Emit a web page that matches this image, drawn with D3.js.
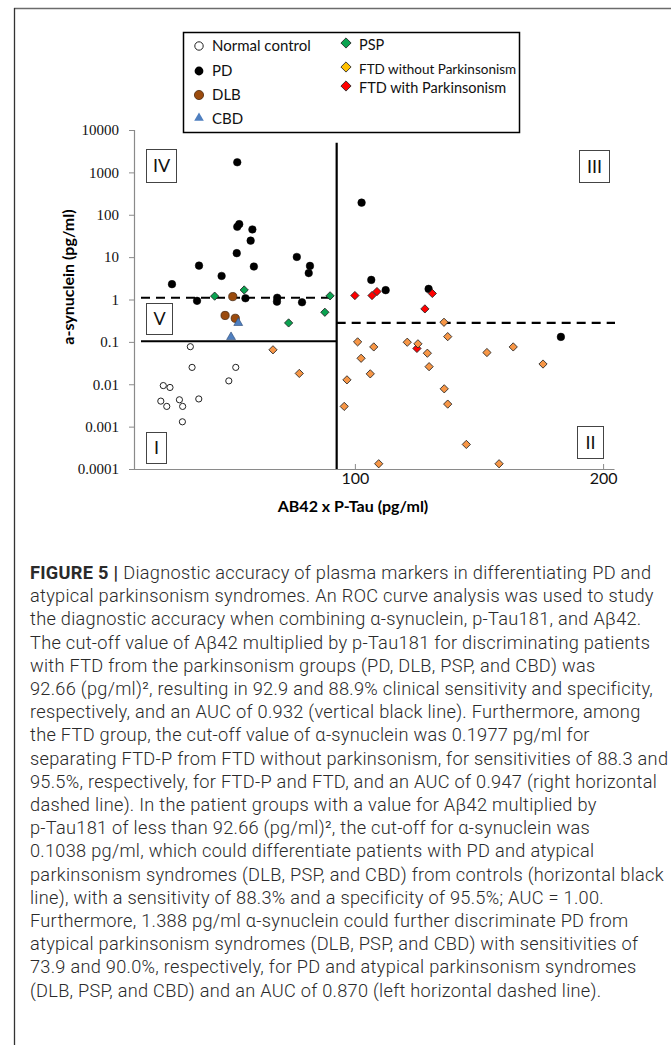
<!DOCTYPE html>
<html>
<head>
<meta charset="utf-8">
<script src="https://cdn.jsdelivr.net/npm/d3@7"></script>
<style>
body { margin: 0; background: #fff; }
svg { display: block; }
</style>
</head>
<body>
<div id="chart"></div>
<script>
// values: [AB42 x P-Tau, a-synuclein]
var normalControl = [[33.7,0.077],[34.4,0.025],[52.0,0.025],[49.2,0.012],[22.8,0.0093],[25.5,0.0084],
  [21.8,0.004],[24.2,0.003],[29.3,0.0043],[30.6,0.003],[37.1,0.0045],[30.5,0.0013]];
var pd = [[52.6,1730],[52.6,52],[53.4,60],[58.7,45],[58.0,24.5],[52.4,12.4],[59.3,6.0],[37.2,6.3],
  [46.3,3.6],[26.3,2.3],[76.6,10.1],[81.9,6.2],[81.4,4.2],[36.4,0.93],[55.9,1.07],[68.7,1.1],
  [68.6,0.89],[78.7,0.86],[102.7,193],[106.6,2.9],[112.4,1.66],[129.7,1.78],[183.0,0.131]];
var dlb = [[50.8,1.17],[47.7,0.42],[51.8,0.36]];
var cbd = [[53.0,0.28],[50.1,0.13]];
var psp = [[43.5,1.2],[55.4,1.68],[90.0,1.22],[87.9,0.5],[73.3,0.28]];
var ftdP = [[100.0,1.24],[106.9,1.24],[108.9,1.54],[131.2,1.39],[128.2,0.6],[125.0,0.07]];
var ftd = [[67.0,0.065],[77.6,0.018],[135.9,0.29],[137.4,0.133],[101.1,0.1],[107.6,0.076],
  [121.1,0.098],[125.4,0.09],[129.2,0.054],[102.5,0.041],[129.9,0.026],[106.2,0.0176],
  [96.8,0.0127],[153.2,0.056],[163.8,0.076],[175.8,0.03],[136.0,0.0078],[137.4,0.0034],
  [95.7,0.003],[144.9,0.00038],[109.6,0.000133],[158.1,0.000133]];

// cut-off lines as drawn
var cutX = 92.66;
var cutLeftDash = 1.1;
var cutLeftSolid = 0.1038;
var cutRightDash = 0.28;

var yTicks = [10000, 1000, 100, 10, 1, 0.1, 0.01, 0.001, 0.0001];
var xTicks = [100, 200];

var legendLeft = ["Normal control", "PD", "DLB", "CBD"];
var legendRight = ["PSP", "FTD without Parkinsonism", "FTD with Parkinsonism"];

var captionLines = [
  "Diagnostic accuracy of plasma markers in differentiating PD and",
  "atypical parkinsonism syndromes. An ROC curve analysis was used to study",
  "the diagnostic accuracy when combining \u03b1-synuclein, p-Tau181, and A\u03b242.",
  "The cut-off value of A\u03b242 multiplied by p-Tau181 for discriminating patients",
  "with FTD from the parkinsonism groups (PD, DLB, PSP, and CBD) was",
  "92.66 (pg/ml)\u00b2, resulting in 92.9 and 88.9% clinical sensitivity and specificity,",
  "respectively, and an AUC of 0.932 (vertical black line). Furthermore, among",
  "the FTD group, the cut-off value of \u03b1-synuclein was 0.1977 pg/ml for",
  "separating FTD-P from FTD without parkinsonism, for sensitivities of 88.3 and",
  "95.5%, respectively, for FTD-P and FTD, and an AUC of 0.947 (right horizontal",
  "dashed line). In the patient groups with a value for A\u03b242 multiplied by",
  "p-Tau181 of less than 92.66 (pg/ml)\u00b2, the cut-off for \u03b1-synuclein was",
  "0.1038 pg/ml, which could differentiate patients with PD and atypical",
  "parkinsonism syndromes (DLB, PSP, and CBD) from controls (horizontal black",
  "line), with a sensitivity of 88.3% and a specificity of 95.5%; AUC = 1.00.",
  "Furthermore, 1.388 pg/ml \u03b1-synuclein could further discriminate PD from",
  "atypical parkinsonism syndromes (DLB, PSP, and CBD) with sensitivities of",
  "73.9 and 90.0%, respectively, for PD and atypical parkinsonism syndromes",
  "(DLB, PSP, and CBD) and an AUC of 0.870 (left horizontal dashed line)."
];

var svgWidth = 671;
var svgHeight = 1045;

var svg = d3.select("#chart")
  .append("svg")
  .attr("width", svgWidth)
  .attr("height", svgHeight);

// figure frame (top + left rule)
svg.append("line").attr("x1", 14).attr("x2", 671).attr("y1", 8.5).attr("y2", 8.5)
  .attr("stroke", "#6b6b6b").attr("stroke-width", 1.5);
svg.append("line").attr("x1", 14.5).attr("x2", 14.5).attr("y1", 8).attr("y2", 1045)
  .attr("stroke", "#333").attr("stroke-width", 1.3);

var x = d3.scaleLinear().domain([11, 204.4]).range([134, 614]);
var y = d3.scaleLog().domain([0.0001, 10000]).range([469, 130]);

// axes
var yAxis = svg.append("g")
  .attr("transform", "translate(134,0)")
  .call(d3.axisLeft(y).tickValues(yTicks).tickSize(5).tickPadding(10)
    .tickFormat(function(d) { return String(d); }));
yAxis.select(".domain").attr("stroke", "#8a8a8a").attr("stroke-width", 1.2);
yAxis.selectAll(".tick line").attr("stroke", "#8a8a8a");
yAxis.selectAll("text")
  .attr("font-family", "'Liberation Serif', 'Times New Roman', serif")
  .attr("font-size", 15).attr("fill", "#111");

var xAxis = svg.append("g")
  .attr("transform", "translate(0,469)")
  .call(d3.axisBottom(x).tickValues(xTicks).tickSizeInner(-5).tickSizeOuter(0).tickPadding(4));
xAxis.select(".domain").attr("stroke", "#8a8a8a").attr("stroke-width", 1.2);
xAxis.selectAll(".tick line").attr("stroke", "#8a8a8a");
xAxis.selectAll("text")
  .attr("font-family", "Lato, 'Open Sans', sans-serif")
  .attr("font-size", 16).attr("fill", "#111");

// axis titles
svg.append("text")
  .attr("transform", "translate(74,277) rotate(-90)")
  .attr("text-anchor", "middle")
  .attr("font-family", "Lato, 'Open Sans', sans-serif")
  .attr("font-weight", "bold").attr("font-size", 16)
  .text("a-synuclein (pg/ml)");

svg.append("text")
  .attr("x", 353).attr("y", 512)
  .attr("text-anchor", "middle")
  .attr("font-family", "Lato, 'Open Sans', sans-serif")
  .attr("font-weight", "bold").attr("font-size", 16)
  .text("AB42 x P-Tau (pg/ml)");

// cut-off lines
svg.append("line")
  .attr("x1", x(cutX)).attr("x2", x(cutX))
  .attr("y1", y(5000)).attr("y2", y(0.0001))
  .attr("stroke", "#000").attr("stroke-width", 2.2);
svg.append("line")
  .attr("x1", 141).attr("x2", x(cutX))
  .attr("y1", y(cutLeftDash)).attr("y2", y(cutLeftDash))
  .attr("stroke", "#000").attr("stroke-width", 2.2).attr("stroke-dasharray", "9,6");
svg.append("line")
  .attr("x1", 141).attr("x2", x(cutX))
  .attr("y1", y(cutLeftSolid)).attr("y2", y(cutLeftSolid))
  .attr("stroke", "#000").attr("stroke-width", 2);
svg.append("line")
  .attr("x1", x(cutX)).attr("x2", 615)
  .attr("y1", y(cutRightDash)).attr("y2", y(cutRightDash))
  .attr("stroke", "#000").attr("stroke-width", 2.2).attr("stroke-dasharray", "9,6");

// quadrant label boxes
var boxes = [
  {t: "IV", x0: 146, y0: 149, x1: 176, y1: 182},
  {t: "V", x0: 146, y0: 303, x1: 172, y1: 334},
  {t: "I", x0: 146, y0: 432, x1: 166, y1: 463},
  {t: "III", x0: 579, y0: 150, x1: 609, y1: 182},
  {t: "II", x0: 577, y0: 426, x1: 603, y1: 458}
];
var boxG = svg.append("g").selectAll("g").data(boxes).enter().append("g");
boxG.append("rect")
  .attr("x", d => d.x0 + 0.5).attr("y", d => d.y0 + 0.5)
  .attr("width", d => d.x1 - d.x0).attr("height", d => d.y1 - d.y0)
  .attr("fill", "#fff").attr("stroke", "#444").attr("stroke-width", 1);
boxG.append("text")
  .attr("x", d => (d.x0 + d.x1) / 2 + 0.5).attr("y", d => (d.y0 + d.y1) / 2 + 6.5)
  .attr("text-anchor", "middle")
  .attr("font-family", "Lato, 'Open Sans', sans-serif").attr("font-size", 18)
  .attr("fill", "#111")
  .text(d => d.t);

// markers
var diamond = d3.symbol().type(d3.symbolSquare).size(34)();
var triangle = d3.symbol().type(d3.symbolTriangle).size(34)();

function circles(data, r, fill, stroke, sw) {
  svg.append("g").selectAll("circle")
    .data(data).enter().append("circle")
    .attr("cx", d => x(d[0])).attr("cy", d => y(d[1]))
    .attr("r", r).attr("fill", fill).attr("stroke", stroke).attr("stroke-width", sw);
}
function shapes(data, path, rot, fill) {
  svg.append("g").selectAll("path")
    .data(data).enter().append("path")
    .attr("d", path)
    .attr("transform", d => "translate(" + x(d[0]) + "," + y(d[1]) + ") rotate(" + rot + ")")
    .attr("fill", fill).attr("stroke", "#222").attr("stroke-width", 0.8);
}

circles(normalControl, 3.1, "#fff", "#222", 1);
circles(pd, 3.8, "#000", "#000", 0.5);
circles(dlb, 4.1, "#9b4b0d", "#4a2a10", 0.8);
svg.append("g").selectAll("path")
  .data(cbd).enter().append("path")
  .attr("d", triangle)
  .attr("transform", d => "translate(" + x(d[0]) + "," + y(d[1]) + ")")
  .attr("fill", "#4f7fbf").attr("stroke", "#2c4a75").attr("stroke-width", 0.6);
shapes(psp, diamond, 45, "#0aa350");
shapes(ftdP, diamond, 45, "#ff0000");
shapes(ftd, diamond, 45, "#f79646");

// legend
var legend = svg.append("g");
legend.append("rect")
  .attr("x", 183.5).attr("y", 32.5).attr("width", 336).attr("height", 100)
  .attr("fill", "#fff").attr("stroke", "#000").attr("stroke-width", 1.5);

var leftRows = [46, 71, 95, 119];
var rightRows = [45, 69, 88];
var legendText = function(sel) {
  sel.attr("font-family", "Lato, 'Open Sans', sans-serif").attr("fill", "#111");
};

legend.append("circle").attr("cx", 199).attr("cy", leftRows[0]).attr("r", 4.2)
  .attr("fill", "#fff").attr("stroke", "#222").attr("stroke-width", 1);
legend.append("circle").attr("cx", 199).attr("cy", leftRows[1]).attr("r", 4.4)
  .attr("fill", "#000");
legend.append("circle").attr("cx", 199).attr("cy", leftRows[2]).attr("r", 4.6)
  .attr("fill", "#9b4b0d").attr("stroke", "#4a2a10").attr("stroke-width", 0.8);
legend.append("path").attr("d", d3.symbol().type(d3.symbolTriangle).size(40)())
  .attr("transform", "translate(199," + (leftRows[3] - 1) + ")")
  .attr("fill", "#4f7fbf");

legend.selectAll("text.l").data(legendLeft).enter().append("text")
  .attr("x", 212).attr("y", (d, i) => leftRows[i] + 5)
  .attr("font-size", 15)
  .call(legendText)
  .text(d => d);

var rightColors = ["#0aa350", "#ffc000", "#ff0000"];
var bigDiamond = d3.symbol().type(d3.symbolSquare).size(52)();
legend.selectAll("path.r").data(legendRight).enter().append("path")
  .attr("d", bigDiamond)
  .attr("transform", (d, i) => "translate(346," + (rightRows[i] - 2) + ") rotate(45)")
  .attr("fill", (d, i) => rightColors[i]).attr("stroke", "#222").attr("stroke-width", 0.8);
legend.selectAll("text.r").data(legendRight).enter().append("text")
  .attr("x", 359).attr("y", (d, i) => rightRows[i] + 5)
  .attr("font-size", (d, i) => i === 1 ? 13.5 : 14.5)
  .call(legendText)
  .text(d => d);

// caption
var cap = svg.append("g")
  .attr("font-family", "Roboto, 'Liberation Sans', sans-serif")
  .attr("font-size", 18.2).attr("fill", "#2a2a2a");
var capText = cap.selectAll("text").data(captionLines).enter().append("text")
  .attr("x", 30).attr("y", (d, i) => 579 + i * 23.2)
  .attr("font-weight", 300)
  .each(function(d, i) {
    var t = d3.select(this);
    if (i === 0) {
      t.append("tspan").attr("font-weight", "bold").text("FIGURE 5 | ");
    }
    t.append("tspan").text(d);
  });

// nudge the letter spacing so the first line spans the same width as in the figure
var firstLine = capText.node();
var nChars = firstLine.textContent.length;
var spacing = (621 - firstLine.getComputedTextLength()) / nChars;
cap.attr("letter-spacing", spacing.toFixed(2));
</script>
</body>
</html>
